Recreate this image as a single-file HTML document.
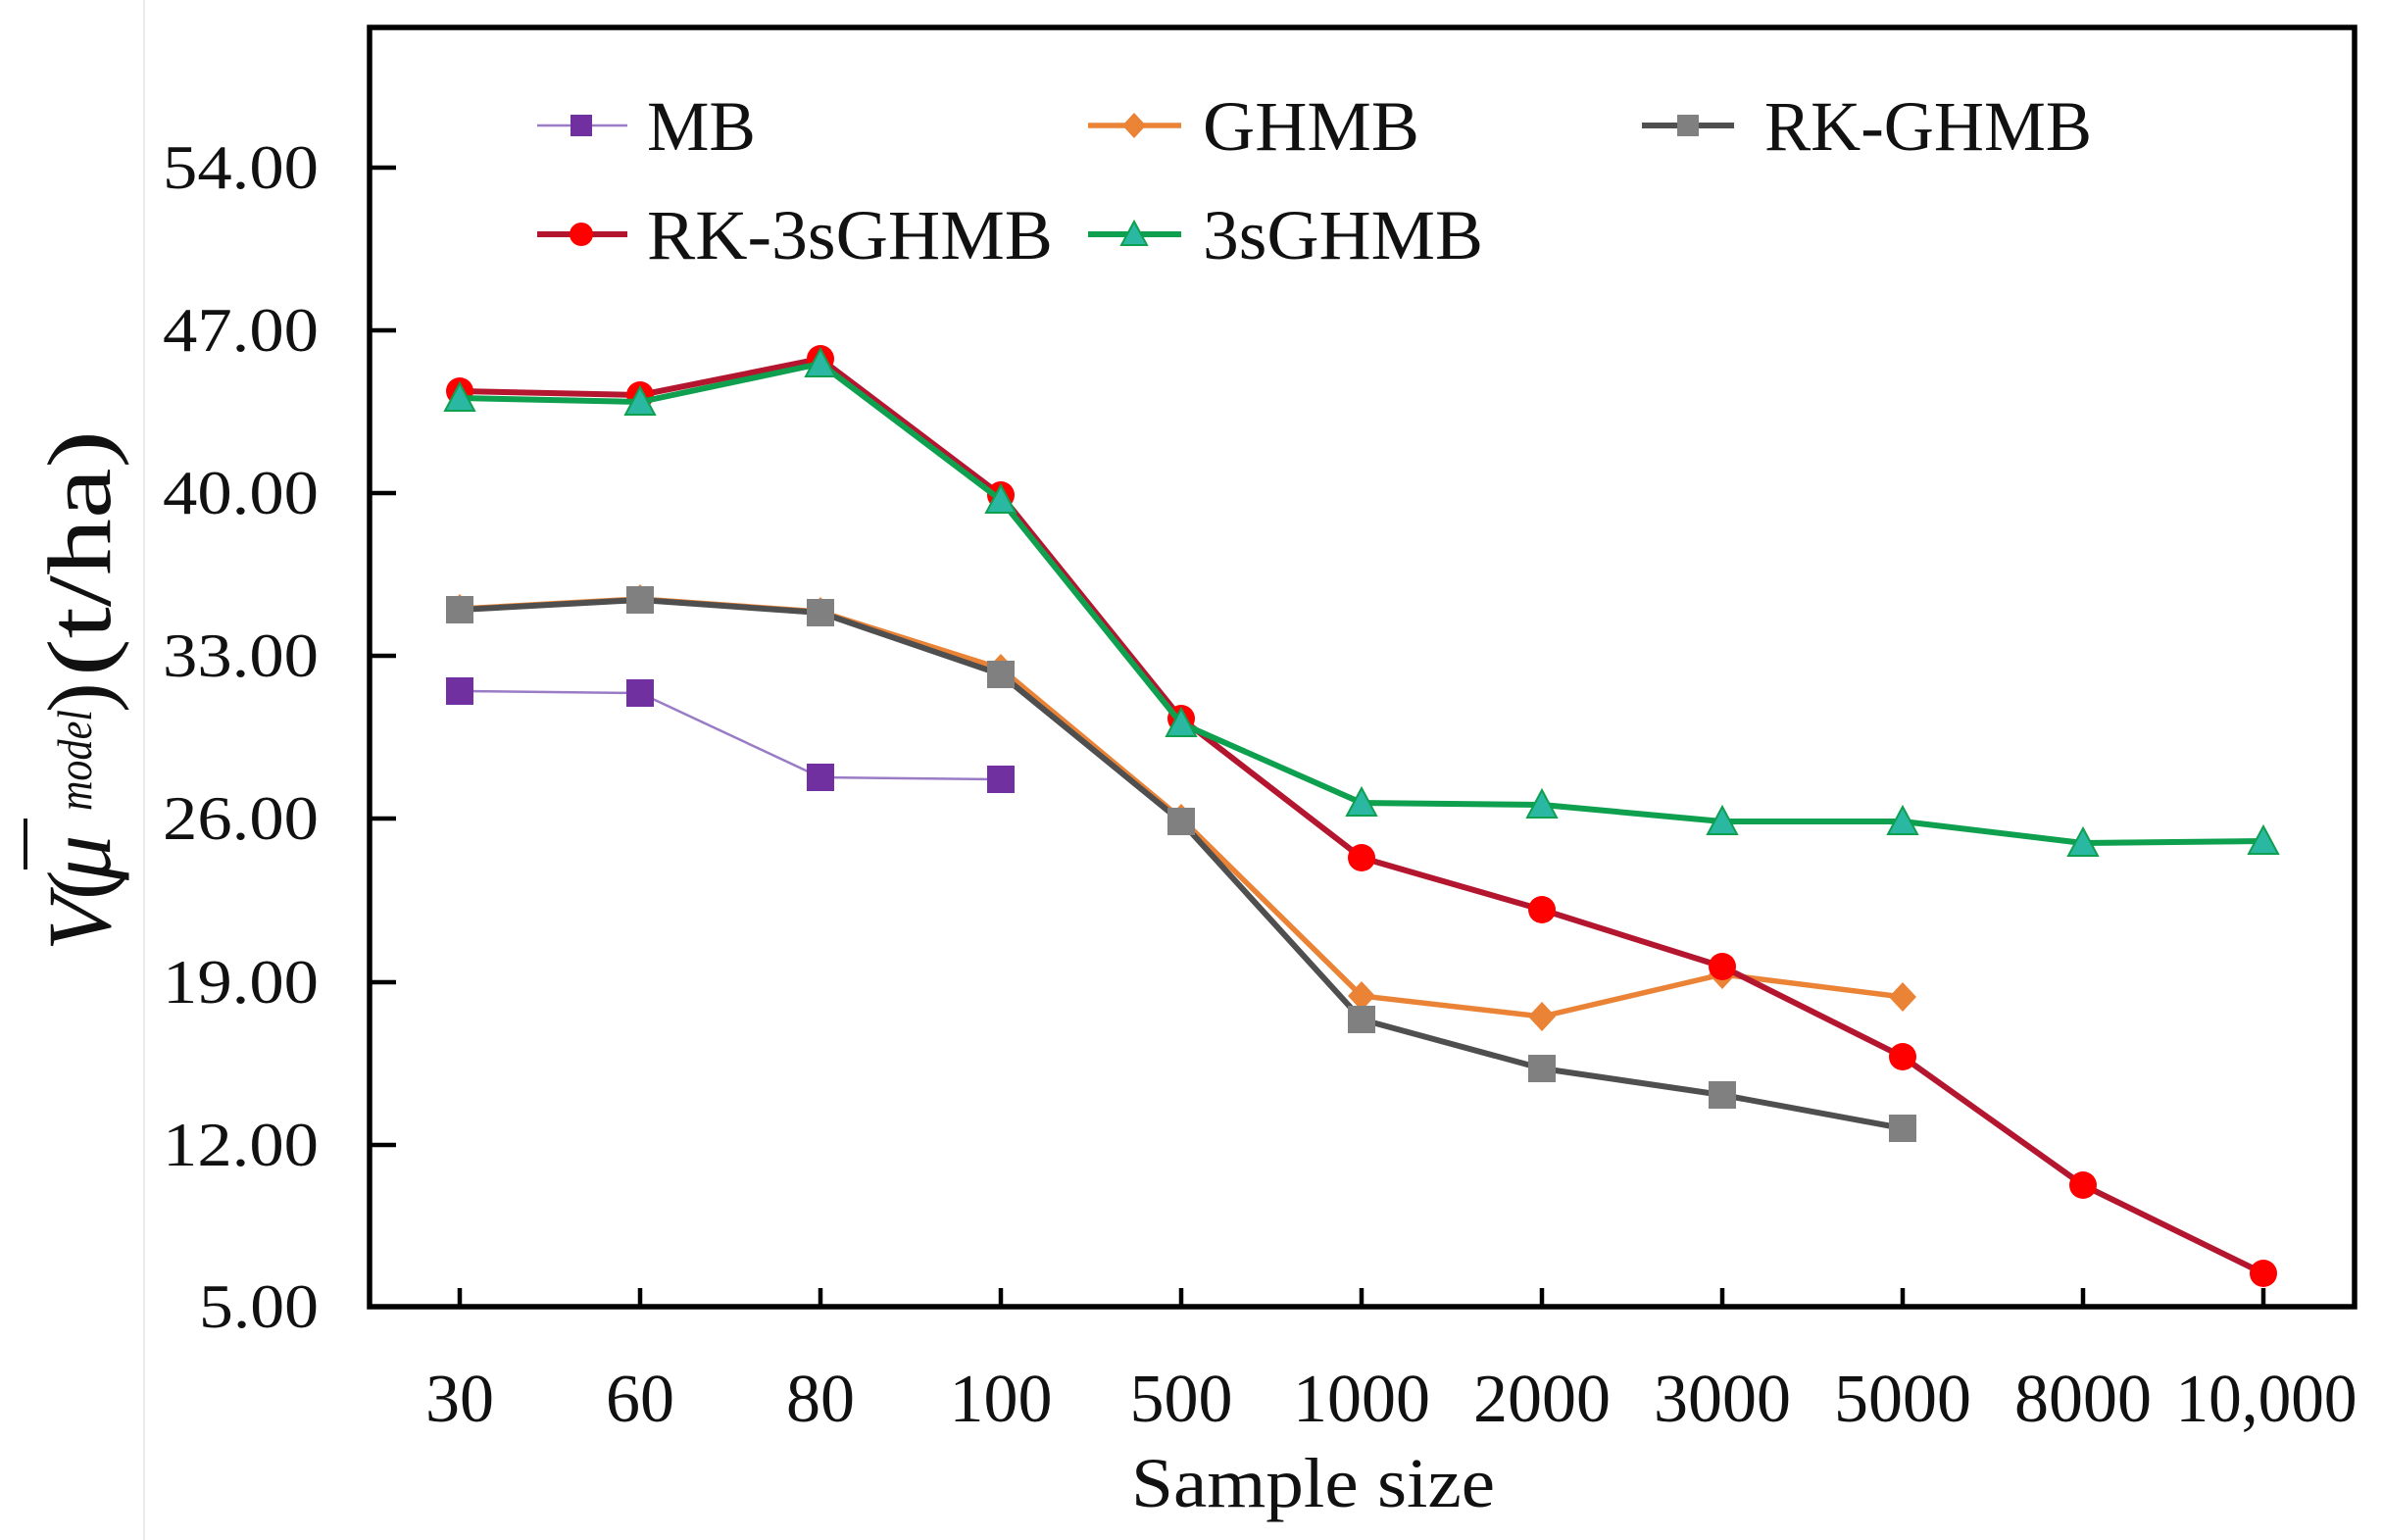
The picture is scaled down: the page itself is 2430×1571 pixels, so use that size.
<!DOCTYPE html>
<html>
<head>
<meta charset="utf-8">
<style>
  html,body{margin:0;padding:0;background:#fff;}
  svg{display:block;}
  text{font-family:"Liberation Serif", serif; fill:#111;}
</style>
</head>
<body>
<svg width="2430" height="1571" viewBox="0 0 2430 1571" xmlns="http://www.w3.org/2000/svg">
  <rect x="0" y="0" width="2430" height="1571" fill="#fff"/>
  <!-- faint vertical line -->
  <line x1="147" y1="0" x2="147" y2="1571" stroke="#ececec" stroke-width="2"/>

  <!-- plot frame -->
  <rect x="377" y="28" width="2025" height="1305" fill="none" stroke="#000" stroke-width="5.5"/>

  <!-- y ticks -->
  <g stroke="#000" stroke-width="4.5">
    <line x1="377" y1="171" x2="404" y2="171"/>
    <line x1="377" y1="337" x2="404" y2="337"/>
    <line x1="377" y1="503" x2="404" y2="503"/>
    <line x1="377" y1="669" x2="404" y2="669"/>
    <line x1="377" y1="835" x2="404" y2="835"/>
    <line x1="377" y1="1002" x2="404" y2="1002"/>
    <line x1="377" y1="1168" x2="404" y2="1168"/>
  </g>
  <!-- x ticks -->
  <g stroke="#000" stroke-width="4.5">
    <line x1="469" y1="1333" x2="469" y2="1314"/>
    <line x1="653" y1="1333" x2="653" y2="1314"/>
    <line x1="837" y1="1333" x2="837" y2="1314"/>
    <line x1="1021" y1="1333" x2="1021" y2="1314"/>
    <line x1="1205" y1="1333" x2="1205" y2="1314"/>
    <line x1="1389" y1="1333" x2="1389" y2="1314"/>
    <line x1="1573" y1="1333" x2="1573" y2="1314"/>
    <line x1="1757" y1="1333" x2="1757" y2="1314"/>
    <line x1="1941" y1="1333" x2="1941" y2="1314"/>
    <line x1="2125" y1="1333" x2="2125" y2="1314"/>
    <line x1="2309" y1="1333" x2="2309" y2="1314"/>
  </g>

  <!-- y tick labels -->
  <g font-size="64" text-anchor="end">
    <text x="325" y="192" textLength="159" lengthAdjust="spacingAndGlyphs">54.00</text>
    <text x="325" y="358" textLength="159" lengthAdjust="spacingAndGlyphs">47.00</text>
    <text x="325" y="524" textLength="159" lengthAdjust="spacingAndGlyphs">40.00</text>
    <text x="325" y="690" textLength="159" lengthAdjust="spacingAndGlyphs">33.00</text>
    <text x="325" y="856" textLength="159" lengthAdjust="spacingAndGlyphs">26.00</text>
    <text x="325" y="1023" textLength="159" lengthAdjust="spacingAndGlyphs">19.00</text>
    <text x="325" y="1189" textLength="159" lengthAdjust="spacingAndGlyphs">12.00</text>
    <text x="325" y="1354" textLength="122" lengthAdjust="spacingAndGlyphs">5.00</text>
  </g>

  <!-- x tick labels -->
  <g font-size="70" text-anchor="middle">
    <text x="469" y="1450">30</text>
    <text x="653" y="1450">60</text>
    <text x="837" y="1450">80</text>
    <text x="1021" y="1450">100</text>
    <text x="1205" y="1450">500</text>
    <text x="1389" y="1450">1000</text>
    <text x="1573" y="1450">2000</text>
    <text x="1757" y="1450">3000</text>
    <text x="1941" y="1450">5000</text>
    <text x="2125" y="1450">8000</text>
    <text x="2312" y="1450" textLength="185" lengthAdjust="spacingAndGlyphs">10,000</text>
  </g>

  <!-- x axis title -->
  <text x="1154" y="1537" font-size="72" textLength="371" lengthAdjust="spacingAndGlyphs">Sample size</text>

  <!-- y axis title (rotated pieces) -->
  <g>
    <text transform="translate(112,970) rotate(-90)" font-size="92" font-style="italic">V</text>
    <text transform="translate(112,918) rotate(-90)" font-size="92">(</text>
    <text transform="translate(112,898) rotate(-90)" font-size="92" font-style="italic">μ</text>
    <line x1="26" y1="835" x2="26" y2="887" stroke="#111" stroke-width="4"/>
    <text transform="translate(93,827) rotate(-90)" font-size="50" font-style="italic" textLength="103" lengthAdjust="spacingAndGlyphs">model</text>
    <text transform="translate(112,727) rotate(-90)" font-size="92">)</text>
    <text transform="translate(112,690) rotate(-90)" font-size="92" textLength="251" lengthAdjust="spacingAndGlyphs">(t/ha)</text>
  </g>

  <!-- Series: MB -->
  <polyline points="469,705 653,707 837,793 1021,795" fill="none" stroke="#9a7cc6" stroke-width="2.5"/>
  <g fill="#7030A0">
    <rect x="455" y="691" width="28" height="28"/>
    <rect x="639" y="693" width="28" height="28"/>
    <rect x="823" y="779" width="28" height="28"/>
    <rect x="1007" y="781" width="28" height="28"/>
  </g>

  <!-- Series: GHMB -->
  <polyline points="469,621 653,611 837,624 1021,682 1205,835 1389,1016 1573,1037 1757,994 1941,1017" fill="none" stroke="#EB8336" stroke-width="5.5" stroke-linejoin="round"/>
  <g fill="#EB8336">
    <polygon points="469,606 483,621 469,636 455,621"/>
    <polygon points="653,596 667,611 653,626 639,611"/>
    <polygon points="837,609 851,624 837,639 823,624"/>
    <polygon points="1021,667 1035,682 1021,697 1007,682"/>
    <polygon points="1205,820 1219,835 1205,850 1191,835"/>
    <polygon points="1389,1001 1403,1016 1389,1031 1375,1016"/>
    <polygon points="1573,1022 1587,1037 1573,1052 1559,1037"/>
    <polygon points="1757,979 1771,994 1757,1009 1743,994"/>
    <polygon points="1941,1002 1955,1017 1941,1032 1927,1017"/>
  </g>

  <!-- Series: RK-GHMB -->
  <polyline points="469,622 653,612 837,625 1021,688 1205,838 1389,1040 1573,1090 1757,1117 1941,1151" fill="none" stroke="#4f4f4f" stroke-width="6" stroke-linejoin="round"/>
  <g fill="#808080">
    <rect x="455" y="608" width="28" height="28"/>
    <rect x="639" y="598" width="28" height="28"/>
    <rect x="823" y="611" width="28" height="28"/>
    <rect x="1007" y="674" width="28" height="28"/>
    <rect x="1191" y="824" width="28" height="28"/>
    <rect x="1375" y="1026" width="28" height="28"/>
    <rect x="1559" y="1076" width="28" height="28"/>
    <rect x="1743" y="1103" width="28" height="28"/>
    <rect x="1927" y="1137" width="28" height="28"/>
  </g>

  <!-- Series: RK-3sGHMB -->
  <polyline points="469,399 653,403 837,366 1021,505 1205,733 1389,875 1573,928 1757,986 1941,1078 2125,1209 2309,1299" fill="none" stroke="#B3162E" stroke-width="6" stroke-linejoin="round"/>
  <g fill="#FF0000">
    <circle cx="469" cy="399" r="14"/>
    <circle cx="653" cy="403" r="14"/>
    <circle cx="837" cy="366" r="14"/>
    <circle cx="1021" cy="505" r="14"/>
    <circle cx="1205" cy="733" r="14"/>
    <circle cx="1389" cy="875" r="14"/>
    <circle cx="1573" cy="928" r="14"/>
    <circle cx="1757" cy="986" r="14"/>
    <circle cx="1941" cy="1078" r="14"/>
    <circle cx="2125" cy="1209" r="14"/>
    <circle cx="2309" cy="1299" r="14"/>
  </g>

  <!-- Series: 3sGHMB -->
  <polyline points="469,406 653,410 837,371 1021,510 1205,738 1389,819 1573,821 1757,838 1941,838 2125,860 2309,858" fill="none" stroke="#0EA04E" stroke-width="6" stroke-linejoin="round"/>
  <g fill="#2BB8A2" stroke="#0EA04E" stroke-width="2">
    <polygon points="469,391 484,419 454,419"/>
    <polygon points="653,395 668,423 638,423"/>
    <polygon points="837,356 852,384 822,384"/>
    <polygon points="1021,495 1036,523 1006,523"/>
    <polygon points="1205,723 1220,751 1190,751"/>
    <polygon points="1389,804 1404,832 1374,832"/>
    <polygon points="1573,806 1588,834 1558,834"/>
    <polygon points="1757,823 1772,851 1742,851"/>
    <polygon points="1941,823 1956,851 1926,851"/>
    <polygon points="2125,845 2140,873 2110,873"/>
    <polygon points="2309,843 2324,871 2294,871"/>
  </g>

  <!-- Legend -->
  <g>
    <!-- MB -->
    <line x1="548" y1="128" x2="640" y2="128" stroke="#9a7cc6" stroke-width="2.5"/>
    <rect x="582" y="117" width="22" height="22" fill="#7030A0"/>
    <text x="660" y="153" font-size="72" textLength="111" lengthAdjust="spacingAndGlyphs">MB</text>
    <!-- GHMB -->
    <line x1="1110" y1="128" x2="1205" y2="128" stroke="#EB8336" stroke-width="5.5"/>
    <polygon points="1157,115 1169,128 1157,141 1145,128" fill="#EB8336"/>
    <text x="1227" y="153" font-size="72" textLength="221" lengthAdjust="spacingAndGlyphs">GHMB</text>
    <!-- RK-GHMB -->
    <line x1="1675" y1="128" x2="1769" y2="128" stroke="#4f4f4f" stroke-width="6"/>
    <rect x="1711" y="117" width="22" height="22" fill="#808080"/>
    <text x="1800" y="153" font-size="72" textLength="334" lengthAdjust="spacingAndGlyphs">RK-GHMB</text>
    <!-- RK-3sGHMB -->
    <line x1="548" y1="239" x2="640" y2="239" stroke="#B3162E" stroke-width="6"/>
    <circle cx="593" cy="239" r="12" fill="#FF0000"/>
    <text x="660" y="264" font-size="72" textLength="414" lengthAdjust="spacingAndGlyphs">RK-3sGHMB</text>
    <!-- 3sGHMB -->
    <line x1="1110" y1="239" x2="1205" y2="239" stroke="#0EA04E" stroke-width="6"/>
    <polygon points="1157,226 1170,250 1144,250" fill="#2BB8A2" stroke="#0EA04E" stroke-width="2"/>
    <text x="1227" y="264" font-size="72" textLength="286" lengthAdjust="spacingAndGlyphs">3sGHMB</text>
  </g>
</svg>
</body>
</html>
